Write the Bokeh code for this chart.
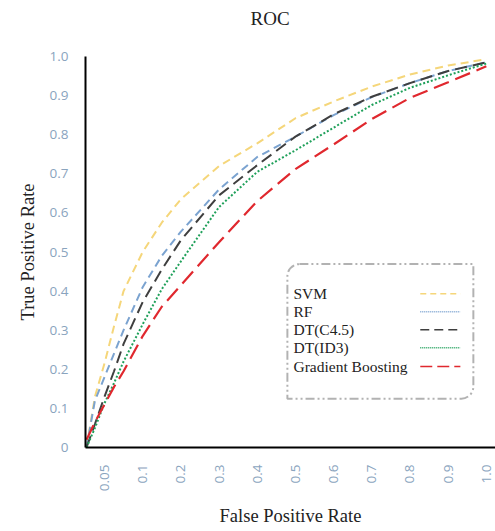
import math
from bokeh.plotting import figure
from bokeh.models import (Range1d, FixedTicker, BoxAnnotation, Label, Title)
from bokeh.embed import file_html
from bokeh.resources import INLINE

# ---------------- data ----------------
fpr_labels = ["0.05", "0.1", "0.2", "0.3", "0.4", "0.5", "0.6", "0.7", "0.8", "0.9", "1.0"]
tpr_ticks = [0, 0.1, 0.2, 0.3, 0.4, 0.5, 0.6, 0.7, 0.8, 0.9, 1.0]

# x positions expressed in category units (0 = "0.05", 1 = "0.1", ... 10 = "1.0")
x_pos = [-0.47, -0.25, 0, 0.25, 0.5, 1, 1.5, 2, 3, 4, 5, 6, 7, 8, 9, 10]

svm = [0.00, 0.13, 0.215, 0.31, 0.40, 0.50, 0.575, 0.635, 0.72, 0.778, 0.842, 0.885, 0.923, 0.954, 0.977, 0.993]
rf = [0.00, 0.12, 0.18, 0.24, 0.30, 0.41, 0.49, 0.552, 0.66, 0.743, 0.795, 0.85, 0.896, 0.932, 0.963, 0.985]
dt_c45 = [0.00, 0.06, 0.13, 0.195, 0.265, 0.372, 0.455, 0.53, 0.645, 0.722, 0.795, 0.852, 0.897, 0.932, 0.963, 0.985]
dt_id3 = [0.00, 0.05, 0.113, 0.165, 0.22, 0.315, 0.405, 0.476, 0.615, 0.705, 0.76, 0.818, 0.876, 0.92, 0.952, 0.982]
gboost = [0.02, 0.065, 0.11, 0.155, 0.195, 0.285, 0.36, 0.415, 0.525, 0.63, 0.712, 0.775, 0.84, 0.894, 0.934, 0.975]

series_names = ["SVM", "RF", "DT(C4.5)", "DT(ID3)", "Gradient Boosting"]
series_values = [svm, rf, dt_c45, dt_id3, gboost]

# ---------------- styles ----------------
colors = ["#F5D67A", "#7BA3D0", "#3F3F3F", "#1FA05A", "#E0282E"]
dashes = ["8 5", "8 5", "12 6", "2 2", "16 7"]
widths = [2, 2, 2, 2, 2.2]
legend_dashes = ["6 4", "1 1", "9 5", "1 1", "12 5"]

SERIF = "Liberation Serif"
TICK_FONT = "Open Sans"
TICK_COLOR = "#8AA4BE"

p = figure(width=495, height=531, output_backend="svg", toolbar_location=None,
           x_range=Range1d(-0.497, 10.24), y_range=Range1d(0, 1.0),
           min_border_left=85, min_border_right=0, min_border_top=55, min_border_bottom=84)
p.outline_line_color = None
p.background_fill_color = "white"

# real title (outermost) and a spacer title between it and the frame
p.title.text = "ROC"
p.title.align = "left"
p.title.offset = 165
p.title.text_font = SERIF
p.title.text_font_size = "19px"
p.title.text_font_style = "normal"
p.title.text_color = "#222222"
p.add_layout(Title(text=" ", text_font_size="9.5px"), "above")

# axes
p.xaxis.ticker = FixedTicker(ticks=list(range(len(fpr_labels))))
p.xaxis.major_label_overrides = {i: lab for i, lab in enumerate(fpr_labels)}
p.xaxis.major_label_orientation = math.pi / 2
p.yaxis.ticker = FixedTicker(ticks=tpr_ticks)
p.yaxis.major_label_overrides = {t: ("0" if t == 0 else f"{t:.1f}") for t in tpr_ticks}

for ax in (p.xaxis[0], p.yaxis[0]):
    ax.axis_line_color = "black"
    ax.axis_line_width = 2
    ax.major_tick_line_color = None
    ax.minor_tick_line_color = None
    ax.major_tick_out = 0
    ax.major_tick_in = 0
    ax.minor_tick_out = 0
    ax.minor_tick_in = 0
    ax.major_label_text_font = TICK_FONT
    ax.major_label_text_font_size = "13.5px"
    ax.major_label_text_color = TICK_COLOR
    ax.axis_label_text_font = SERIF
    ax.axis_label_text_font_size = "18.5px"
    ax.axis_label_text_font_style = "normal"
    ax.axis_label_text_color = "#222222"

p.xaxis.axis_label = "False Positive Rate"
p.yaxis.axis_label = "True Positive Rate"
p.xaxis.major_label_standoff = 17
p.yaxis.major_label_standoff = 17
p.xaxis.axis_label_standoff = 12
p.yaxis.axis_label_standoff = 9

p.xgrid.grid_line_color = None
p.ygrid.ticker = FixedTicker(ticks=[1.0])
p.ygrid.grid_line_color = "#BFBFBF"
p.ygrid.grid_line_dash = "2 2"
p.ygrid.grid_line_width = 1

for name, vals, c, d, w in zip(series_names, series_values, colors, dashes, widths):
    p.line(x_pos, vals, line_color=c, line_dash=d, line_width=w)

# ---------------- legend box (layout constants, data units) ----------------
LEG_LEFT, LEG_RIGHT, LEG_TOP, LEG_BOTTOM = 4.79, 9.66, 0.469, 0.125
LEG_TEXT_X = 4.95
LEG_ROWS_Y = [0.393, 0.347, 0.301, 0.255, 0.207]
LEG_SAMPLE_X0, LEG_SAMPLE_X1 = 8.27, 9.32

box = BoxAnnotation(left=LEG_LEFT, right=LEG_RIGHT, top=LEG_TOP, bottom=LEG_BOTTOM,
                    fill_color="white", fill_alpha=1.0, level="underlay",
                    line_color="black", line_width=2, line_dash="9 3 2 3 2 3",
                    border_radius=(12, 0, 12, 0))
p.add_layout(box)

for name, c, d, yy in zip(series_names, colors, legend_dashes, LEG_ROWS_Y):
    p.add_layout(Label(x=LEG_TEXT_X, y=yy, text=name, text_font=SERIF,
                       text_font_size="15.5px", text_color="#222222",
                       text_baseline="middle", text_align="left"))
    p.line([LEG_SAMPLE_X0, LEG_SAMPLE_X1], [yy, yy], line_color=c, line_dash=d, line_width=1.5)

open("out.html", "w").write(file_html(p, INLINE))
